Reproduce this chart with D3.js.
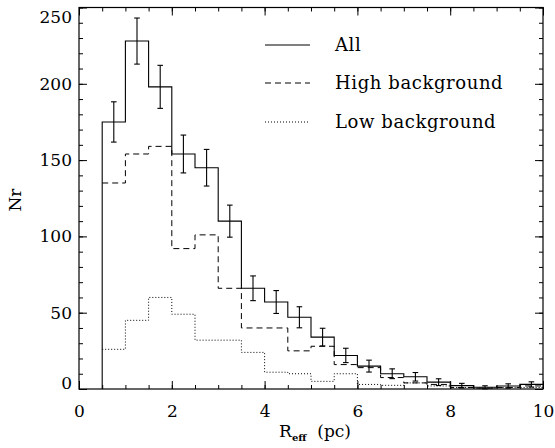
<!DOCTYPE html>
<html>
<head>
<meta charset="utf-8">
<script src="https://cdn.jsdelivr.net/npm/d3@7"></script>
<style>
  body { margin: 0; background: #fff; }
  text { font-family: "DejaVu Serif", serif; fill: #000; }
</style>
</head>
<body>
<svg id="chart" width="555" height="448"></svg>
<script>
// bin left edges (pc), width 0.5
var binStarts = [0.5, 1.0, 1.5, 2.0, 2.5, 3.0, 3.5, 4.0, 4.5, 5.0, 5.5, 6.0, 6.5, 7.0, 7.5, 8.0, 8.5, 9.0, 9.5];
var binWidth = 0.5;

var allCounts  = [175, 228, 198, 154, 145, 110, 66, 57, 47, 34, 22, 15, 10, 8, 4.5, 2.2, 1.1, 2, 3];
var allErrors  = [13.2, 15.1, 14.1, 12.4, 12.0, 10.5, 8.1, 7.5, 6.9, 5.8, 4.7, 3.9, 3.2, 2.8, 2.2, 1.5, 1.0, 1.4, 1.7];
var highCounts = [135, 154, 159, 92, 101, 66, 40, 40, 25, 28, 16, 14, 7.5, 4, 3, 1, 0.6, 1, 2];
var lowCounts  = [26, 45, 60, 49, 32, 32, 24, 11, 10, 5, 10, 3, 2.4, 4, 2, 1, 0.5, 1, 1];

var xTicks = [0, 2, 4, 6, 8, 10];
var yTicks = [0, 50, 100, 150, 200, 250];
var legendLabels = ["All", "High background", "Low background"];

var svg = d3.select("#chart");
var margin = {left: 79, right: 12, top: 7.5, bottom: 59};
var width = +svg.attr("width"), height = +svg.attr("height");

var x = d3.scaleLinear().domain([0, 10]).range([margin.left, width - margin.right]);
var y = d3.scaleLinear().domain([0, 250]).range([height - margin.bottom, margin.top]);

var plot = svg.append("g");

// step histograms
function stepPoints(counts, fromZero) {
    var pts = [];
    if (fromZero) pts.push([binStarts[0], 0]);
    counts.forEach(function (c, i) { pts.push([binStarts[i], c]); });
    pts.push([binStarts[binStarts.length - 1] + binWidth, counts[counts.length - 1]]);
    return pts;
}

var step = d3.line()
    .x(function (d) { return x(d[0]); })
    .y(function (d) { return y(d[1]); })
    .curve(d3.curveStepAfter);

var styles = [
    {dash: null},
    {dash: "6,4"},
    {dash: "1,2"}
];

plot.append("path")
    .attr("d", step(stepPoints(lowCounts, false)))
    .attr("fill", "none").attr("stroke", "#000").attr("stroke-width", 1)
    .attr("stroke-dasharray", styles[2].dash);

plot.append("path")
    .attr("d", step(stepPoints(highCounts, false)))
    .attr("fill", "none").attr("stroke", "#000").attr("stroke-width", 1)
    .attr("stroke-dasharray", styles[1].dash);

plot.append("path")
    .attr("d", step(stepPoints(allCounts, true)))
    .attr("fill", "none").attr("stroke", "#000").attr("stroke-width", 1.1);

// error bars
var cap = 2.8;
var bars = plot.selectAll("g.err")
    .data(allCounts)
    .enter().append("g")
    .attr("class", "err")
    .attr("stroke", "#000")
    .attr("stroke-width", 1.1);

bars.append("line")
    .attr("x1", function (d, i) { return x(binStarts[i] + binWidth / 2); })
    .attr("x2", function (d, i) { return x(binStarts[i] + binWidth / 2); })
    .attr("y1", function (d, i) { return y(d - allErrors[i]); })
    .attr("y2", function (d, i) { return y(d + allErrors[i]); });

[-1, 1].forEach(function (s) {
    bars.append("line")
        .attr("x1", function (d, i) { return x(binStarts[i] + binWidth / 2) - cap; })
        .attr("x2", function (d, i) { return x(binStarts[i] + binWidth / 2) + cap; })
        .attr("y1", function (d, i) { return y(d + s * allErrors[i]); })
        .attr("y2", function (d, i) { return y(d + s * allErrors[i]); });
});

// axes: ticks point inwards, mirrored on top and right
var xMinor = d3.range(0, 10.01, 0.5);
var yMinor = d3.range(0, 250.1, 10);
var bottomY = y(0), topY = y(250), leftX = x(0), rightX = x(10);

function axisStyle(g) {
    g.select(".domain").remove();
    g.selectAll("line").attr("stroke", "#000").attr("stroke-width", 1);
}

svg.append("g").attr("transform", "translate(0," + bottomY + ")")
    .call(d3.axisBottom(x).tickValues(xMinor).tickSize(-4).tickFormat(""))
    .call(axisStyle);
svg.append("g").attr("transform", "translate(0," + bottomY + ")")
    .call(d3.axisBottom(x).tickValues(xTicks).tickSize(-8).tickPadding(16).tickFormat(d3.format("d")))
    .call(axisStyle)
    .selectAll("text").attr("font-size", "17px").attr("font-family", "DejaVu Serif").attr("fill", "#000");

svg.append("g").attr("transform", "translate(0," + topY + ")")
    .call(d3.axisTop(x).tickValues(xMinor).tickSize(-4).tickFormat(""))
    .call(axisStyle);
svg.append("g").attr("transform", "translate(0," + topY + ")")
    .call(d3.axisTop(x).tickValues(xTicks).tickSize(-8).tickFormat(""))
    .call(axisStyle);

svg.append("g").attr("transform", "translate(" + leftX + ",0)")
    .call(d3.axisLeft(y).tickValues(yMinor).tickSize(-4).tickFormat(""))
    .call(axisStyle);
svg.append("g").attr("transform", "translate(" + leftX + ",0)")
    .call(d3.axisLeft(y).tickValues(yTicks).tickSize(-8).tickPadding(7).tickFormat(d3.format("d")))
    .call(axisStyle)
    .selectAll("text")
    .attr("font-size", "17px").attr("font-family", "DejaVu Serif").attr("fill", "#000")
    // end labels are nudged inside the frame, as in the original plot
    .attr("dy", function (d) { return d === 250 ? "0.9em" : d === 0 ? "-0.05em" : "0.32em"; });

svg.append("g").attr("transform", "translate(" + rightX + ",0)")
    .call(d3.axisRight(y).tickValues(yMinor).tickSize(-4).tickFormat(""))
    .call(axisStyle);
svg.append("g").attr("transform", "translate(" + rightX + ",0)")
    .call(d3.axisRight(y).tickValues(yTicks).tickSize(-8).tickFormat(""))
    .call(axisStyle);

// frame
svg.append("rect")
    .attr("x", leftX).attr("y", topY)
    .attr("width", rightX - leftX).attr("height", bottomY - topY)
    .attr("fill", "none").attr("stroke", "#000").attr("stroke-width", 1.2);

// axis titles
var xt = svg.append("text")
    .attr("x", (leftX + rightX) / 2 + 4)
    .attr("y", 437)
    .attr("text-anchor", "middle")
    .attr("font-size", "17px");
xt.append("tspan").text("R");
xt.append("tspan").attr("font-size", "10px").attr("font-weight", "bold").attr("dy", 4).text("eff");
xt.append("tspan").attr("dy", -4).text("\u00a0\u00a0(pc)");

svg.append("text")
    .attr("transform", "translate(21,200) rotate(-90)")
    .attr("text-anchor", "middle")
    .attr("font-size", "17px")
    .text("Nr");

// legend
var legend = svg.append("g");
var legendY = [45, 83, 122];
legendLabels.forEach(function (lab, i) {
    legend.append("line")
        .attr("x1", 265).attr("x2", 310)
        .attr("y1", legendY[i]).attr("y2", legendY[i])
        .attr("stroke", "#000").attr("stroke-width", 1)
        .attr("stroke-dasharray", styles[i].dash);
    legend.append("text")
        .attr("x", 335).attr("y", legendY[i] + 6)
        .attr("font-size", "18px")
        .attr("letter-spacing", "0.6px")
        .text(lab);
});
</script>
</body>
</html>
